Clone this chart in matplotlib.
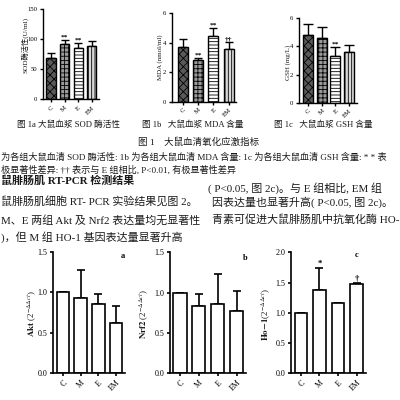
import numpy as np
import matplotlib
matplotlib.use('Agg')
import matplotlib.pyplot as plt

plt.rcParams['font.family'] = ['Liberation Serif', 'Noto Sans CJK SC', 'DejaVu Sans']
plt.rcParams['mathtext.fontset'] = 'stix'
plt.rcParams['hatch.linewidth'] = 0.6

groups = ['C', 'M', 'E', 'EM']

# Fig 1 - serum oxidative stress
sod_mean = [69, 92, 85, 88]
sod_err = [8, 7, 9, 8]
mda_mean = [3.7, 2.8, 4.45, 3.6]
mda_err = [0.55, 0.2, 0.55, 0.45]
gsh_mean = [4.8, 4.62, 3.35, 3.62]
gsh_err = [0.82, 0.78, 0.63, 0.48]
sod_marks = ['', '**', '**', '']
mda_marks = ['', '**', '**', '††']
gsh_marks = ['', '', '**', '']

# Fig 2 - RT-PCR
akt_mean = [1.0, 0.93, 0.86, 0.62]
akt_err = [0.0, 0.34, 0.12, 0.21]
nrf2_mean = [1.0, 0.84, 0.86, 0.77]
nrf2_err = [0.0, 0.14, 0.37, 0.25]
ho1_mean = [1.0, 1.38, 1.16, 1.48]
ho1_err = [0.0, 0.36, 0.01, 0.02]
ho1_marks = ['', '*', '', '†']

top_styles = [('#5a5a5a', 'xxxx'), ('#9a9a9a', '++++'),
              ('white', '-----'), ('#d8d8d8', '|||||')]

W, H = 400, 400
fig = plt.figure(figsize=(4, 4), dpi=100)
fig.patch.set_facecolor('white')


def rect(x0, y0, x1, y1):
    return [x0 / W, 1 - y1 / H, (x1 - x0) / W, (y1 - y0) / H]


def txt(x, y, s, size, **kw):
    kw.setdefault('va', 'center')
    fig.text(x / W, 1 - y / H, s, fontsize=size, color='#1a1a1a', **kw)


def panel(box, xlim, ymax, yticks, means, errs, width, styles=None,
          marks=None, tsize=5.0, lw=1.1, fmt='{:g}'):
    ax = fig.add_axes(rect(*box))
    x = np.arange(len(means))
    for i in x:
        if styles is None:
            fc, hatch = 'white', None
        else:
            fc, hatch = styles[i]
        ax.bar(i, means[i], width=width, color=fc, hatch=hatch,
               edgecolor='black', linewidth=lw, zorder=2)
    low = np.zeros(len(errs))
    ax.errorbar(x, means, yerr=[low, errs], fmt='none', ecolor='black',
                elinewidth=lw, capsize=width * 4.5, capthick=lw, zorder=1)
    if marks is not None:
        for i in x:
            if marks[i]:
                ax.text(i, means[i] + errs[i], marks[i], ha='center',
                        va='bottom', fontsize=tsize + 0.5,
                        fontweight='bold')
    ax.set_xlim(*xlim)
    ax.set_ylim(0, ymax)
    ax.set_yticks(yticks)
    ax.set_yticklabels([fmt.format(t) for t in yticks])
    ax.set_xticks(x)
    ax.set_xticklabels(groups, rotation=45, ha='right',
                       rotation_mode='anchor')
    for s in ['top', 'right']:
        ax.spines[s].set_visible(False)
    for s in ['left', 'bottom']:
        ax.spines[s].set_linewidth(lw)
    ax.tick_params(labelsize=tsize, length=2.5, width=lw, pad=1.5)
    ax.patch.set_alpha(0)
    return ax


# top row
panel((43, 8.7, 99, 99.3), (-0.59, 3.55), 150, [0, 50, 100, 150],
      sod_mean, sod_err, 0.67, top_styles, sod_marks, tsize=4.8, lw=1.0)
panel((172, 13.3, 236, 101.7), (-0.72, 3.49), 6, [0, 2, 4, 6],
      mda_mean, mda_err, 0.66, top_styles, mda_marks, tsize=4.8, lw=1.0)
panel((299, 18.3, 357, 102.7), (-0.66, 3.58), 6, [0, 2, 4, 6],
      gsh_mean, gsh_err, 0.73, top_styles, gsh_marks, tsize=4.8, lw=1.0)

txt(25, 45, 'SOD酶活性(U/ml)', 5.2, rotation=90, ha='center')
txt(160, 57, 'MDA (nmol/ml)', 5.0, rotation=90, ha='center')
txt(288, 62, 'GSH (mg/L)', 5.0, rotation=90, ha='center')

txt(17, 125, '图 1a 大鼠血浆 SOD 酶活性', 6.2)
txt(142, 125, '图 1b   大鼠血浆 MDA 含量', 6.2)
txt(274, 125, '图 1c   大鼠血浆 GSH 含量', 6.2)
txt(138, 142, '图 1    大鼠血清氧化应激指标', 6.8)
txt(1, 157, '为各组大鼠血清 SOD 酶活性: 1b 为各组大鼠血清 MDA 含量: '
    '1c 为各组大鼠血清 GSH 含量: * * 表', 6.6)
txt(1, 170, '极显著性差异: †† 表示与 E 组相比, P<0.01, 有极显著性差异', 6.6)

# body text
txt(1, 181, '鼠腓肠肌 RT-PCR 检测结果', 7.9, fontweight='bold')
txt(1, 201, '鼠腓肠肌细胞 RT- PCR 实验结果见图 2。', 7.9)
txt(1, 220, 'M、E 两组 Akt 及 Nrf2 表达量均无显著性', 7.9)
txt(1, 237, ')，但 M 组 HO-1 基因表达量显著升高', 7.9)
txt(208, 188, '( P<0.05, 图 2c)。与 E 组相比, EM 组', 7.9)
txt(212, 202, '因表达量也显著升高( P<0.05, 图 2c)。', 7.9)
txt(212, 219, '青素可促进大鼠腓肠肌中抗氧化酶 HO-', 7.9)

# bottom row
ax = panel((53, 251.7, 125, 373.3), (-0.56, 3.5), 1.5, [0, 0.5, 1.0, 1.5],
           akt_mean, akt_err, 0.7, tsize=5.8, lw=1.2, fmt='{:.1f}')
ax.text(3.4, 1.42, 'a', fontsize=6, fontweight='bold', ha='center')
ax = panel((170, 252.3, 246, 373.3), (-0.53, 3.5), 1.5, [0, 0.5, 1.0, 1.5],
           nrf2_mean, nrf2_err, 0.69, tsize=5.8, lw=1.2, fmt='{:.1f}')
ax.text(3.45, 1.41, 'b', fontsize=6, fontweight='bold', ha='center')
ax = panel((291, 252.3, 366, 373.3), (-0.53, 3.5), 2.0,
           [0, 0.5, 1.0, 1.5, 2.0], ho1_mean, ho1_err, 0.67,
           marks=ho1_marks, tsize=5.8, lw=1.2, fmt='{:.1f}')
ax.text(3.0, 1.93, 'c', fontsize=6, fontweight='bold', ha='center')

txt(32, 314, r'$\mathbf{Akt}$ (2$^{-\Delta\Delta ct}$)', 6.4,
    rotation=90, ha='center')
txt(144, 314, r'$\mathbf{Nrf2}$ (2$^{-\Delta\Delta ct}$)', 6.4,
    rotation=90, ha='center')
txt(266, 314, r'$\mathbf{Ho\!-\!1}$(2$^{-\Delta\Delta ct}$)', 6.4,
    rotation=90, ha='center')

fig.savefig('out.png', dpi=100, facecolor='white')
